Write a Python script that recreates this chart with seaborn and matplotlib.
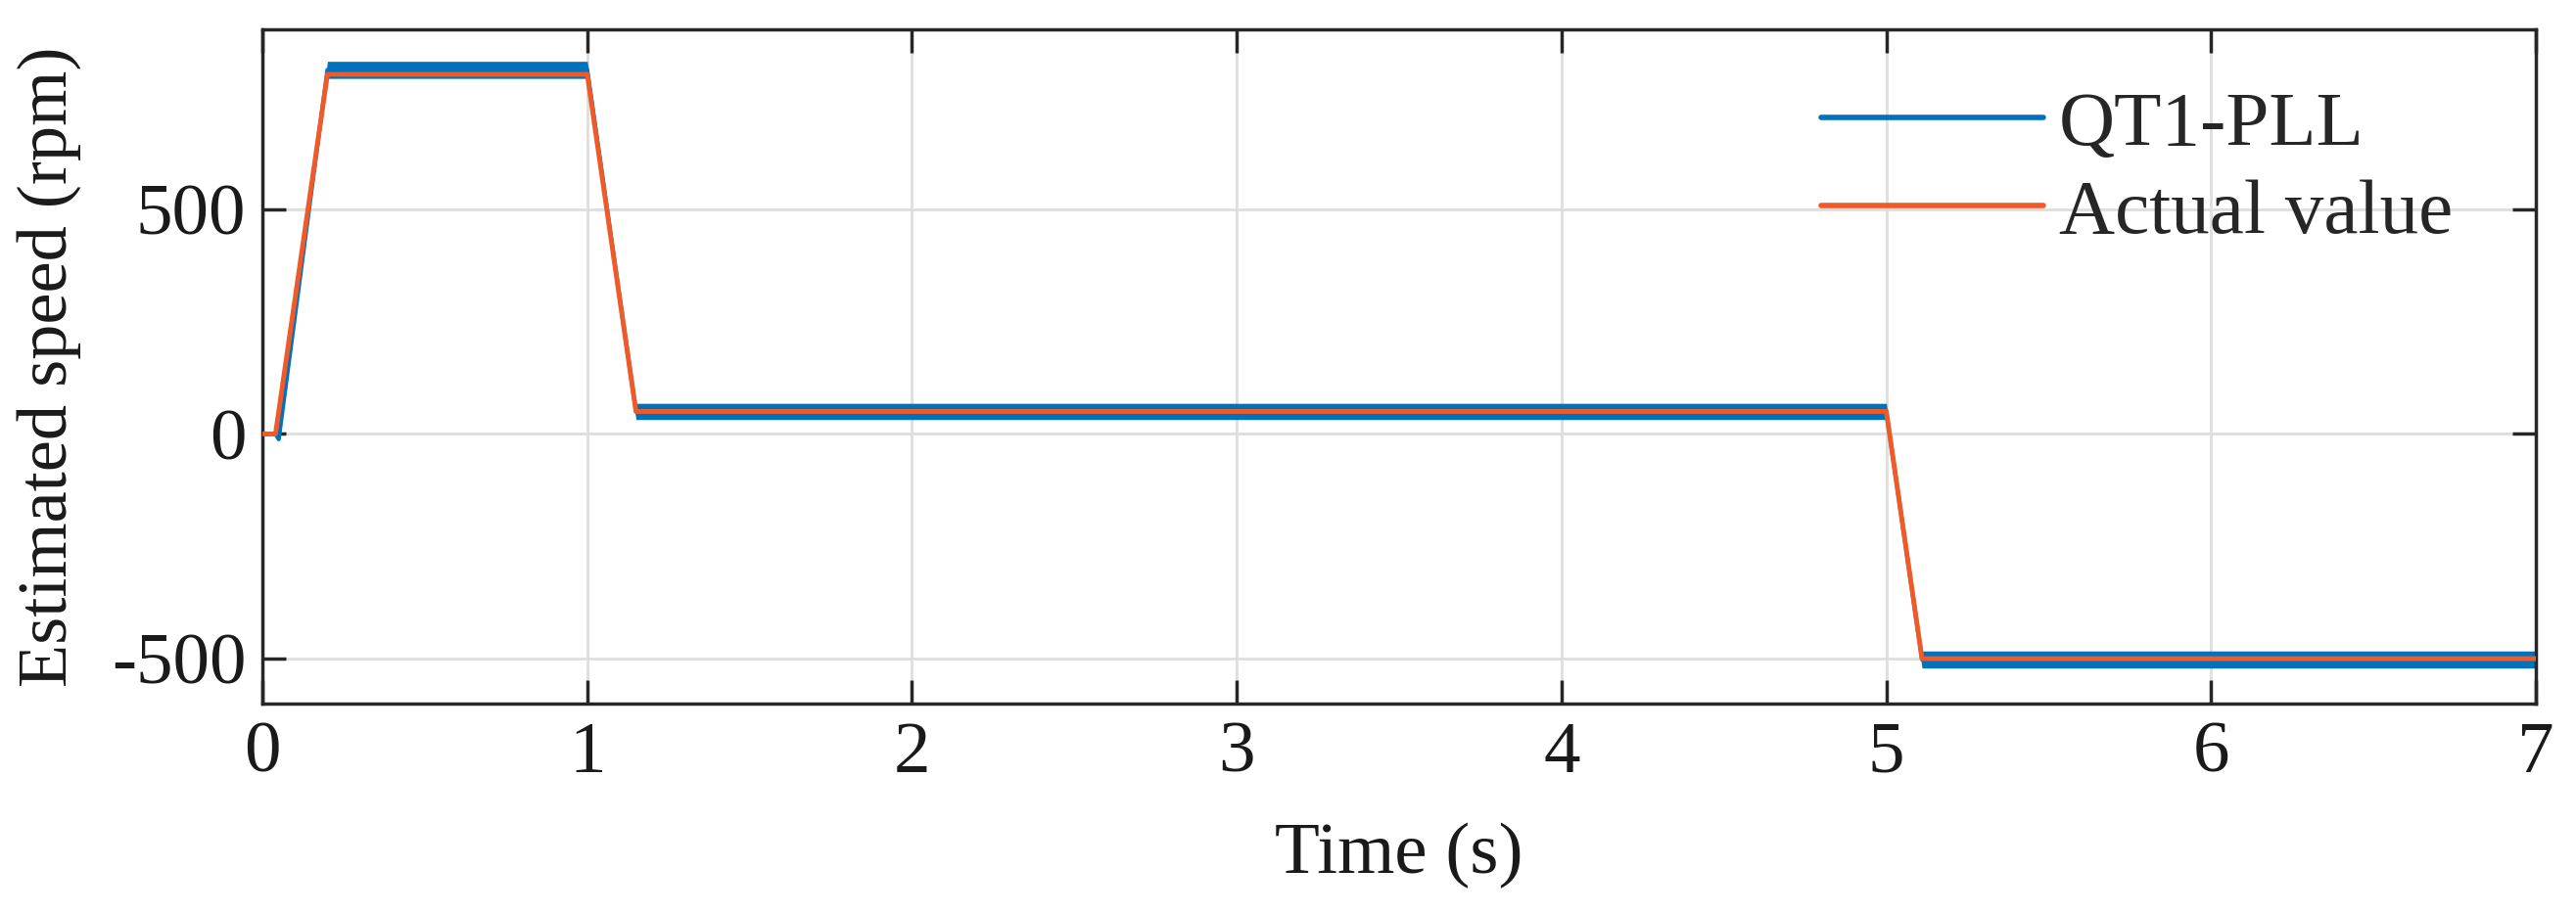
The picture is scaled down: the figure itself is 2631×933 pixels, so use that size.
import numpy as np
import pandas as pd
import seaborn as sns
import matplotlib.pyplot as plt

# reference speed profile (rpm) at its breakpoints
t_actual = [0.0, 0.04, 0.2, 1.0, 1.15, 5.0, 5.11, 7.0]
speed_actual = [0, 0, 800, 800, 50, 50, -500, -500]

# estimated speed: mean level and visible ripple half-width
t_est = [0.0, 0.04, 0.05, 0.2, 1.0, 1.15, 5.0, 5.11, 7.0]
speed_est = [0, 0, -12, 810, 810, 50, 50, -502, -502]
ripple_est = [0, 0, 4, 19, 19, 18, 18, 19, 19]

x_ticks = [0, 1, 2, 3, 4, 5, 6, 7]
y_ticks = [-500, 0, 500]

blue = "#0072BD"
orange = "#F05A28"

sns.set_style("ticks")
plt.rcParams["font.family"] = ["Liberation Serif", "DejaVu Serif"]
plt.rcParams["axes.unicode_minus"] = False

est = pd.DataFrame({"t": t_est, "speed": speed_est, "ripple": ripple_est})
act = pd.DataFrame({"t": t_actual, "speed": speed_actual})

fig = plt.figure(figsize=(26.31, 9.33), dpi=100)
ax = fig.add_axes([0.1019, 0.2294, 0.8825, 0.7384])

ax.fill_between(est["t"], est["speed"] - est["ripple"], est["speed"] + est["ripple"],
                color=blue, linewidth=0, zorder=2)
sns.lineplot(data=est, x="t", y="speed", ax=ax, color=blue, linewidth=3,
             sort=False, label="QT1-PLL", zorder=3)
sns.lineplot(data=act, x="t", y="speed", ax=ax, color=orange, linewidth=3.5,
             sort=False, label="Actual value", zorder=4)

ax.set_xlim(0, 7)
ax.set_ylim(-600, 900)
ax.set_xticks(x_ticks)
ax.set_yticks(y_ticks)
ax.grid(True, color="#DEDEDE", linewidth=2)
ax.set_axisbelow(True)

for s in ax.spines.values():
    s.set_visible(True)
    s.set_linewidth(2.5)
    s.set_color("#262626")
ax.tick_params(direction="in", length=17, width=2.5, color="#262626",
               top=True, right=True, labelsize=54, labelcolor="#1a1a1a")
ax.tick_params(axis="x", pad=13)
ax.tick_params(axis="y", pad=12)

ax.set_xlabel("Time (s)", fontsize=54, color="#1a1a1a", labelpad=26)
ax.set_ylabel("Estimated speed (rpm)", fontsize=52, color="#1a1a1a", labelpad=22)

leg = ax.legend(loc="upper right", bbox_to_anchor=(0.977, 0.955), frameon=False,
                fontsize=57, handlelength=2.87, handletextpad=0.2, labelspacing=0.22,
                borderaxespad=0)
for line in leg.get_lines():
    line.set_linewidth(4)

fig.savefig("out.png", dpi=100)
